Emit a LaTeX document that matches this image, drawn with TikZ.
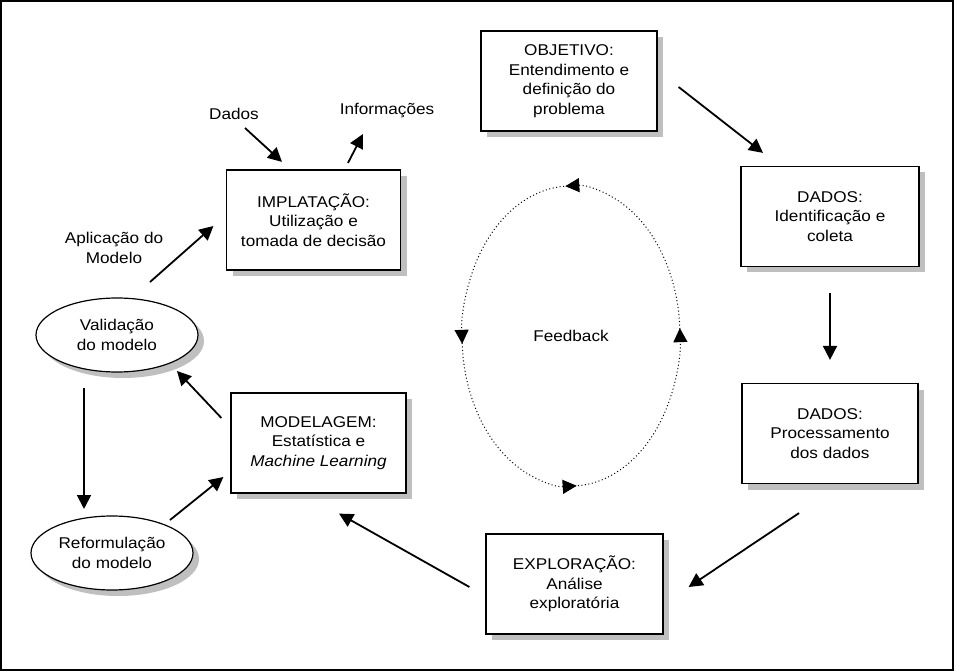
\documentclass[tikz,border=0pt]{standalone}
\usepackage{fontspec}
\setmainfont{Liberation Sans}[FakeStretch=1.1]
\usetikzlibrary{arrows.meta,calc,shadows,shapes.geometric}
\begin{document}
\begin{tikzpicture}[x=1pt,y=-1pt]
        \tikzset{
          etapa/.style={draw,line width=1.2pt,fill=white,inner sep=0pt,align=center,
            minimum width=176pt,minimum height=100pt,
            font=\fontsize{15.6}{19.5}\selectfont,
            drop shadow={shadow xshift=6pt,shadow yshift=-6pt,fill=gray!50,opacity=1}},
          laco/.style={etapa,ellipse,minimum width=162pt,minimum height=74pt},
          rotulo/.style={inner sep=1pt,align=center,font=\fontsize{15.6}{19.5}\selectfont},
          seta/.style={line width=1.8pt,-{Triangle[length=14pt,width=14pt]}},
          retro/.style={dash pattern=on 1pt off 2.5pt,line width=1pt,-{Triangle[length=14pt,width=14pt]}}
        }
        \useasboundingbox (0,0) rectangle (954,671);
        %MOLDURA
        \draw[line width=1.5pt] (1,1) rectangle (953,670);

        %ETAPAS
        \node[etapa] (obj) at (569,81) {OBJETIVO:\\Entendimento e\\definição do\\problema};
        \node[etapa,minimum width=178pt] (col) at (830,216.5) {DADOS:\\Identificação e\\coleta};
        \node[etapa] (proc) at (830,433.5) {DADOS:\\Processamento\\dos dados};
        \node[etapa,minimum width=177pt] (expl) at (574.5,584) {EXPLORAÇÃO:\\Análise\\exploratória};
        \node[etapa,minimum width=175pt] (mod) at (318.5,443) {MODELAGEM:\\Estatística e\\\textit{Machine Learning}};
        \node[etapa,minimum width=174pt] (impl) at (313.5,220) {IMPLATAÇÃO:\\Utilização e\\tomada de decisão};
        \node[laco] (val) at (117,335) {Validação\\do modelo};
        \node[laco] (ref) at (112,553) {Reformulação\\do modelo};

        %ROTULOS
        \node[rotulo] (dados) at (234,114) {Dados};
        \node[rotulo] (info) at (387,111) {Informações};
        \node[rotulo] (apl) at (114,248) {Aplicação do\\Modelo};
        \node[rotulo] (fb) at (571,336) {Feedback};

        %CICLO
        \draw[seta] ($(obj.east)+(21,6)$) -- ($(col.north)+(-67,-13)$);
        \draw[seta] ($(col.south)+(0,26)$) -- ($(proc.north)+(0,-23)$);
        \draw[seta] ($(proc.south)+(-31,29)$) -- ($(expl.east)+(25,3)$);
        \draw[seta] ($(expl.west)+(-16,3)$) -- ($(mod.south)+(20.5,20)$);
        \draw[seta] ($(mod.west)+(-9,-25)$) -- ($(val)+(60,36)$);
        \draw[seta] ($(val)+(-33,53)$) -- ($(ref)+(-28,-44)$);
        \draw[seta] ($(ref)+(58,-33)$) -- ($(mod.west)+(-7,34)$);
        \draw[seta] ($(val)+(33,-53)$) -- ($(impl.west)+(-12.5,6)$);
        \draw[seta] ($(dados)+(11,14)$) -- ($(impl.north)+(-31.5,-7.5)$);
        \draw[seta] ($(impl.north)+(34.5,-6.5)$) -- ($(info)+(-24,23)$);

        %FEEDBACK
        \foreach \a in {90,0,-90,-180}
          \draw[retro] ($(fb)+(\a:109 and 150)$) arc[start angle=\a,delta angle=-93,x radius=109,y radius=150];
\end{tikzpicture}
\end{document}
